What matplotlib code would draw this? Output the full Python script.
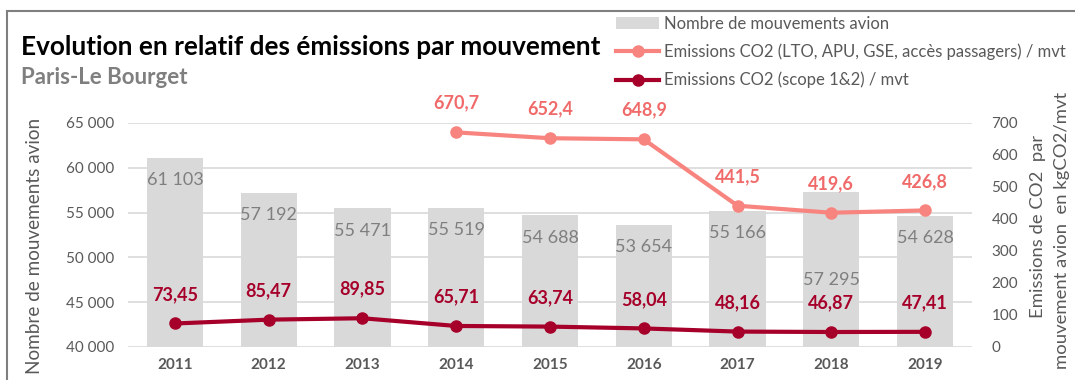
import matplotlib.pyplot as plt
import numpy as np
from matplotlib.lines import Line2D
from matplotlib.patches import Patch, Rectangle

plt.rcParams['font.family'] = ['Lato', 'DejaVu Sans']

years = ['2011', '2012', '2013', '2014', '2015', '2016', '2017', '2018', '2019']
mouvements = [61103, 57192, 55471, 55519, 54688, 53654, 55166, 57295, 54628]
co2_lto = [np.nan, np.nan, np.nan, 670.7, 652.4, 648.9, 441.5, 419.6, 426.8]
co2_scope = [73.45, 85.47, 89.85, 65.71, 63.74, 58.04, 48.16, 46.87, 47.41]

gray_txt = '#7F7F7F'
tick_txt = '#595959'
bar_col = '#D9D9D9'
pink = '#F8847F'
pink_txt = '#F06A6A'
dark = '#A6002A'

W, H = 1075, 380


def fr_int(v):
    return f'{v:,.0f}'.replace(',', ' ')


def fr_dec(v, n):
    return f'{v:.{n}f}'.replace('.', ',')


fig = plt.figure(figsize=(W / 100, H / 100), dpi=100)
ax = fig.add_axes([128 / W, 1 - 347 / H, 844 / W, 224 / H])
x = np.arange(len(years))

ax.bar(x, mouvements, width=0.6, color=bar_col, zorder=2)
ax.set_ylim(40000, 65000)
ax.set_yticks(np.arange(40000, 65001, 5000))
ax.set_yticklabels([fr_int(v) for v in np.arange(40000, 65001, 5000)])
ax.set_xlim(-0.5, len(years) - 0.5)
ax.set_xticks(x)
ax.set_xticklabels(years, fontweight='bold')
ax.grid(axis='y', color='#D9D9D9', lw=1.2, zorder=0)
ax.set_axisbelow(True)
for s in ax.spines.values():
    s.set_visible(False)
ax.tick_params(axis='y', length=0, labelsize=11, labelcolor=tick_txt, pad=10)
ax.tick_params(axis='x', length=0, labelsize=11, labelcolor=tick_txt, pad=8)

# bar values sit inside the bar top; 2018 is pushed down below the pink line
shift = {'2018': -63}
for yr, xi, v in zip(years, x, mouvements):
    ax.annotate(fr_int(v), (xi, v), xytext=(0, shift.get(yr, -16)), textcoords='offset points',
                ha='center', va='center', fontsize=13, color=gray_txt, zorder=3)

ax2 = ax.twinx()
ax2.set_ylim(0, 700)
ax2.set_yticks(np.arange(0, 701, 100))
for s in ax2.spines.values():
    s.set_visible(False)
ax2.tick_params(axis='y', length=0, labelsize=11, labelcolor=tick_txt, pad=14)

ax2.plot(x, co2_lto, color=pink, lw=3, marker='o', ms=8, zorder=4)
ax2.plot(x, co2_scope, color=dark, lw=3, marker='o', ms=8, zorder=4)

for xi, v in zip(x, co2_lto):
    if not np.isnan(v):
        ax2.annotate(fr_dec(v, 1), (xi, v), xytext=(0, 21), textcoords='offset points',
                     ha='center', va='center', fontsize=13, fontweight='bold', color=pink_txt)
for xi, v in zip(x, co2_scope):
    ax2.annotate(fr_dec(v, 2), (xi, v), xytext=(0, 21), textcoords='offset points',
                 ha='center', va='center', fontsize=13, fontweight='bold', color=dark)

# axis titles
fig.text(35 / W, 1 - 246 / H, 'Nombre de mouvements avion', rotation=90,
         fontsize=13.6, color=tick_txt, ha='center', va='center')
fig.text(1038 / W, 1 - 226 / H, 'Emissions de CO2  par', rotation=90,
         fontsize=13.3, color=tick_txt, ha='center', va='center')
fig.text(1062 / W, 1 - 230 / H, 'mouvement avion  en kgCO2/mvt', rotation=90,
         fontsize=13.3, color=tick_txt, ha='center', va='center')

fig.text(21 / W, 1 - 47 / H, 'Evolution en relatif des émissions par mouvement',
         fontsize=18.8, fontweight='bold', color='black', va='center')
fig.text(21 / W, 1 - 78 / H, 'Paris-Le Bourget', fontsize=16,
         fontweight='bold', color=gray_txt, va='center')

handles = [
    Patch(facecolor=bar_col, edgecolor='none'),
    Line2D([], [], color=pink, lw=3, marker='o', ms=8),
    Line2D([], [], color=dark, lw=3, marker='o', ms=8),
]
labels = ['Nombre de mouvements avion',
          'Emissions CO2 (LTO, APU, GSE, accès passagers) / mvt',
          'Emissions CO2 (scope 1&2) / mvt']
leg = fig.legend(handles, labels, loc='upper left', bbox_to_anchor=(616 / W, 1 - 16 / H),
                 frameon=False, fontsize=12, labelspacing=0.7, handlelength=2.6,
                 handletextpad=0.3, borderaxespad=0, borderpad=0)
for t in leg.get_texts():
    t.set_color(tick_txt)

fig.patches.append(Rectangle((7 / W, -0.1), 1.2, 1 - 11 / H + 0.1,
                             transform=fig.transFigure, fill=False,
                             edgecolor='#7F7F7F', lw=1.5, zorder=0))

fig.savefig('out.png', dpi=100)
